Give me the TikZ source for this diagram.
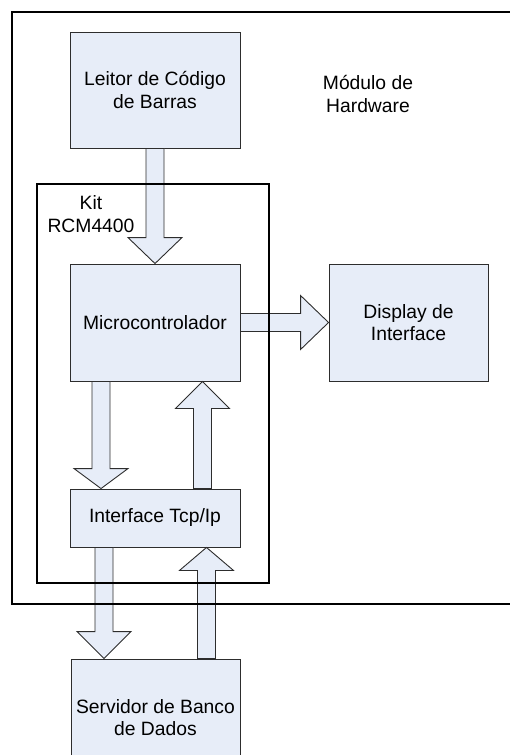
\documentclass[tikz,border=0pt]{standalone}
\usepackage{fontspec}
\setmainfont{Liberation Sans}
\usetikzlibrary{calc}

\definecolor{boxfill}{RGB}{231,237,248}
\definecolor{edge}{RGB}{45,45,45}
\newcommand\labelfont{\fontsize{19.3pt}{22.2pt}\selectfont}

\tikzset{
  unit/.style={draw=edge, line width=0.9pt, fill=boxfill, minimum width=170pt,
    inner sep=0pt, align=center, font=\labelfont},
  frame/.style={draw=black, line width=1.6pt, inner sep=0pt},
  label text/.style={align=center, font=\labelfont, inner sep=0pt},
  fat head/.store in=\fahead, fat head=27pt,
  % block arrow from the start point to the target point
  fat/.style={draw=edge, line width=0.9pt, fill=boxfill, line join=miter,
    to path={
      let \p1=(\tikztostart), \p2=(\tikztotarget),
          \n1={atan2(\y2-\y1,\x2-\x1)} in
      ($(\p1)+({\n1+90}:9pt)$)
      -- ($(\p2)+({\n1+180}:\fahead)+({\n1+90}:9pt)$)
      -- ($(\p2)+({\n1+180}:\fahead)+({\n1+90}:27pt)$)
      -- (\p2)
      -- ($(\p2)+({\n1+180}:\fahead)+({\n1-90}:27pt)$)
      -- ($(\p2)+({\n1+180}:\fahead)+({\n1-90}:9pt)$)
      -- ($(\p1)+({\n1-90}:9pt)$) -- cycle}},
}

\begin{document}
\begin{tikzpicture}[x=1pt,y=-1pt]
\useasboundingbox (0,0) rectangle (510,755);
\clip (0,0) rectangle (510,755);

% functional blocks
\node[unit, minimum height=116pt] (leitor) at (155,90) {Leitor de Código\\de Barras};
\node[unit, minimum height=117pt] (micro) at (155,322.5) {Microcontrolador};
\node[unit, minimum width=159pt, minimum height=117pt] (display) at (408.5,322.5) {Display de\\Interface};
\node[unit, minimum height=58pt] (tcp) at (155,518) {Interface Tcp/Ip};
\node[unit, minimum width=169pt, minimum height=117pt] (servidor) at (155.5,717.5) {Servidor de Banco\\de Dados};

% data flow
\draw[fat, fat head=26pt] (leitor.south) to (micro.north);
\draw[fat, fat head=28pt] (micro.east) to (display.west);
\draw[fat, fat head=20pt] ($(micro.south)+(-54,0)$) to ($(tcp.north)+(-54,0)$);
\draw[fat] ($(tcp.north)+(47.5,0)$) to ($(micro.south)+(47.5,0)$);
\draw[fat] ($(tcp.south)+(-51,0)$) to ($(servidor.north)+(-51.5,0)$);
\draw[fat, fat head=23pt] ($(servidor.north)+(51,0)$) to ($(tcp.south)+(51.5,0)$);

% enclosing modules
\node[frame, line width=1.4pt, minimum width=232pt, minimum height=399pt] (kit) at (153,383.5) {};
\node[frame, minimum width=518pt, minimum height=592pt] (hw) at (271,308) {};

\node[label text] (kitlabel) at (91,214) {Kit\\RCM4400};
\node[label text] (hwlabel) at (368,94) {Módulo de\\Hardware};
\end{tikzpicture}
\end{document}
